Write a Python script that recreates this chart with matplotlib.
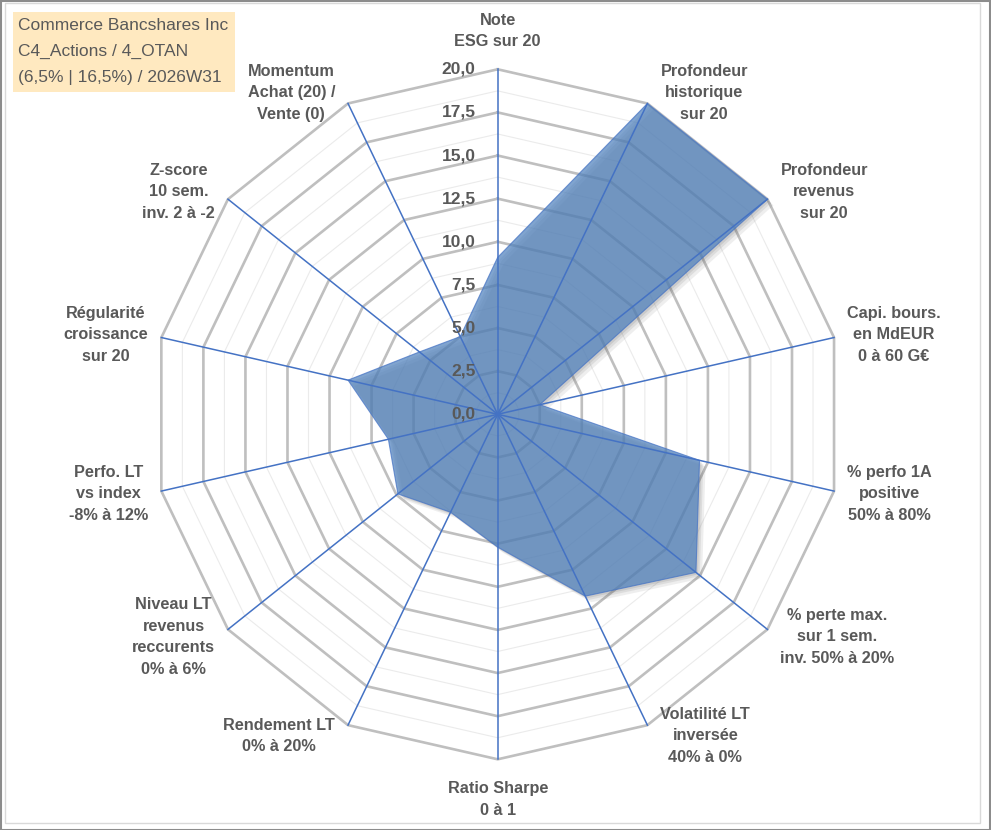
import numpy as np
import matplotlib
matplotlib.use('Agg')
import matplotlib.pyplot as plt
from matplotlib.patches import Rectangle, Polygon

## DATA
labels = ["Note\nESG sur 20",
          "Profondeur\nhistorique\nsur 20",
          "Profondeur\nrevenus\nsur 20",
          "Capi. bours.\nen MdEUR\n0 à 60 G€",
          "% perfo 1A\npositive\n50% à 80%",
          "% perte max.\nsur 1 sem.\ninv. 50% à 20%",
          "Volatilité LT\ninversée\n40% à 0%",
          "Ratio Sharpe\n0 à 1",
          "Rendement LT\n0% à 20%",
          "Niveau LT\nrevenus\nreccurents\n0% à 6%",
          "Perfo. LT\nvs index\n-8% à 12%",
          "Régularité\ncroissance\nsur 20",
          "Z-score\n10 sem.\ninv. 2 à -2",
          "Momentum\nAchat (20) /\nVente (0)"]
values = [9.1, 20.0, 20.0, 2.5, 12.0, 14.7, 11.7, 7.7, 6.3, 7.4, 6.5, 8.9, 5.8, 5.0]
major_ticks = [0.0, 2.5, 5.0, 7.5, 10.0, 12.5, 15.0, 17.5, 20.0]
minor_ticks = [1.25, 3.75, 6.25, 8.75, 11.25, 13.75, 16.25, 18.75]
title_lines = ["Commerce Bancshares Inc", "C4_Actions / 4_OTAN", "(6,5% | 16,5%) / 2026W31"]

## STYLE
txt_col = '#595959'
plt.rcParams['font.family'] = ['Liberation Sans', 'DejaVu Sans']

W, H = 991, 830
cx, cy = 497.7, 414.3      # centre in pixels (from top)
ppu = 17.25                # pixels per unit

fig = plt.figure(figsize=(W / 100, H / 100), dpi=100)
ax = fig.add_axes([0, 0, 1, 1])
ax.set_xlim(-cx / ppu, (W - cx) / ppu)
ax.set_ylim(-(H - cy) / ppu, cy / ppu)
ax.set_aspect('equal')
ax.axis('off')

n = len(values)
theta = np.arange(n) * 2 * np.pi / n   # clockwise from top
sx, sy = np.sin(theta), np.cos(theta)

def ring(r):
    return np.append(r * sx, r * sx[0]), np.append(r * sy, r * sy[0])

# grid rings
for r in minor_ticks:
    x, y = ring(r)
    ax.plot(x, y, color='#EBEBEB', lw=0.8, zorder=1)
for r in major_ticks[1:]:
    x, y = ring(r)
    ax.plot(x, y, color='#BFBFBF', lw=1.9, zorder=2, solid_joinstyle='miter')

# data polygon with soft shadow
v = np.array(values)
pts = np.column_stack([v * sx, v * sy])
for k, a in [(0.35, 0.10), (0.22, 0.12), (0.12, 0.14)]:
    ax.add_patch(Polygon(pts + [k, -k], closed=True, fc='#606060', ec='none', alpha=a, zorder=3))
ax.add_patch(Polygon(pts, closed=True, fc='#4F81BD', ec='#4472C4', lw=0.8, alpha=0.72, zorder=4))

# spokes
for i in range(n):
    ax.plot([0, 20 * sx[i]], [0, 20 * sy[i]], color='#4472C4', lw=1.1, zorder=5)

# radial tick labels
for t in major_ticks:
    ax.annotate(f"{t:.1f}".replace('.', ','), (0, t), xytext=(-22, 0), textcoords='offset pixels',
                ha='right', va='center', fontsize=12.5, fontweight='bold', color=txt_col, zorder=6)

# category labels
for i, lab in enumerate(labels):
    if abs(sx[i]) < 0.05:
        ha = 'center'
        dx = 0
        if sy[i] > 0:
            va, dy = 'bottom', 20
        else:
            va, dy = 'top', -22
    else:
        ha = 'left' if sx[i] > 0 else 'right'
        dx = 13 if sx[i] > 0 else -13
        va, dy = 'center', 12 * sy[i]
    ax.annotate(lab, (20 * sx[i], 20 * sy[i]), xytext=(dx, dy), textcoords='offset pixels',
                ha=ha, va=va, multialignment='center', linespacing=1.55,
                fontsize=11.7, fontweight='bold', color=txt_col, zorder=6)

# title box
fig.patches.append(Rectangle((13 / W, 1 - 92 / H), 222 / W, 80 / H, transform=fig.transFigure,
                             fc='#FFE9C0', ec='none', zorder=0))
fig.text(18 / W, 1 - 18 / H, "\n".join(title_lines), ha='left', va='top', fontsize=12.5,
         color=txt_col, linespacing=1.9)

# frames
fig.patches.append(Rectangle((5 / W, 1 - 823 / H), 975 / W, 820 / H, transform=fig.transFigure,
                             fill=False, ec='#D9D9D9', lw=1.0))
fig.patches.append(Rectangle((0.5 / W, 0.5 / H), 1 - 1.5 / W, 1 - 1.5 / H, transform=fig.transFigure,
                             fill=False, ec='#8C8C8C', lw=1.5))

fig.savefig('out.png', dpi=100)
